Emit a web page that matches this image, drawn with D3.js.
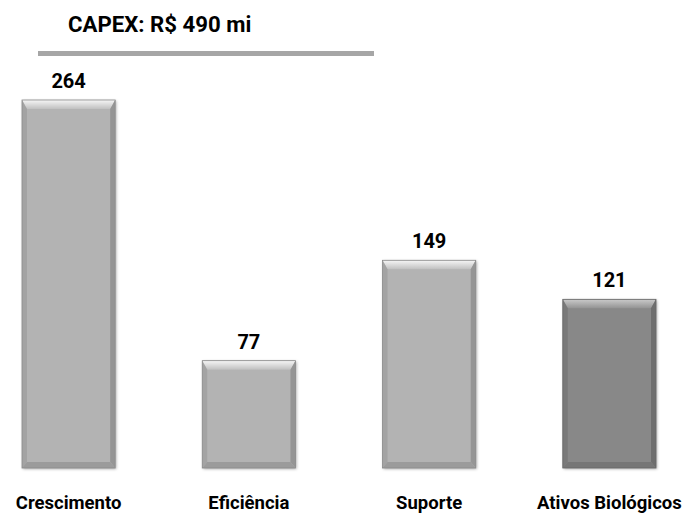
<!DOCTYPE html>
<html><head><meta charset="utf-8">
<script src="https://cdn.jsdelivr.net/npm/d3@7"></script>
<style>body{margin:0;background:#fff}svg{display:block}text{font-family:Roboto,"Open Sans",sans-serif;font-weight:bold;fill:#000}</style>
</head><body>
<script>
const categories = ["Crescimento","Eficiência","Suporte","Ativos Biológicos"];
const values = [264,77,149,121];
const dark = [false,false,false,true];
const title = "CAPEX: R$ 490 mi";

const W=688,H=516;
const svg=d3.select("body").append("svg").attr("width",W).attr("height",H);
const defs=svg.append("defs");
const f=defs.append("filter").attr("id","sh").attr("x","-10%").attr("y","-10%").attr("width","130%").attr("height","130%");
f.append("feDropShadow").attr("dx",1).attr("dy",1).attr("stdDeviation",1.5).attr("flood-color","#000").attr("flood-opacity",0.35);
function grad(id,c1,c2,vertical){
  const g=defs.append("linearGradient").attr("id",id).attr("x1",0).attr("y1",0).attr("x2",vertical?0:1).attr("y2",vertical?1:0);
  g.append("stop").attr("offset","0%").attr("stop-color",c1);
  g.append("stop").attr("offset","100%").attr("stop-color",c2);
}
grad("topL","#f6f6f6","#c0c0c0",true);
grad("topD","#cacaca","#939393",true);

const x=d3.scaleBand().domain(categories).range([22,656]).paddingInner(0.483).paddingOuter(0);
const y=d3.scaleLinear().domain([0,264]).range([468,100]);

svg.append("text").attr("x",68).attr("y",31.5).attr("font-size",22.2).text(title);
svg.append("rect").attr("x",38).attr("y",51).attr("width",336).attr("height",5).attr("fill","#a6a6a6");

const g=svg.selectAll("g.bar").data(categories).join("g").attr("class","bar");
g.each(function(c,i){
  const s=d3.select(this);
  const x0=x(c),w=x.bandwidth(),y0=y(values[i]),y1=y(0),h=y1-y0;
  const base=dark[i]?"#888888":"#b3b3b3";
  const side=dark[i]?"#6e6e6e":"#959595";
  const bot=dark[i]?"#767676":"#9b9b9b";
  const t=9,sd=5,b=6;
  s.append("rect").attr("x",x0).attr("y",y0).attr("width",w).attr("height",h).attr("fill",base).attr("filter","url(#sh)");
  s.append("polygon").attr("points",[[x0,y0],[x0+w,y0],[x0+w-sd,y0+t],[x0+sd,y0+t]].join(" ")).attr("fill",`url(#${dark[i]?"topD":"topL"})`);
  s.append("polygon").attr("points",[[x0,y0],[x0+sd,y0+t],[x0+sd,y1-b],[x0,y1]].join(" ")).attr("fill",side).attr("opacity",0.55);
  s.append("polygon").attr("points",[[x0+w,y0],[x0+w-sd,y0+t],[x0+w-sd,y1-b],[x0+w,y1]].join(" ")).attr("fill",side);
  s.append("polygon").attr("points",[[x0,y1],[x0+sd,y1-b],[x0+w-sd,y1-b],[x0+w,y1]].join(" ")).attr("fill",bot);
  s.append("rect").attr("x",x0).attr("y",y0).attr("width",w).attr("height",h).attr("fill","none").attr("stroke",dark[i]?"#666":"#8a8a8a").attr("stroke-width",0.8);
  s.append("text").attr("x",x0+w/2).attr("y",y0-12).attr("text-anchor","middle").attr("font-size",20).text(values[i]);
});

const ax=d3.axisBottom(x).tickSize(0).tickPadding(0);
const axg=svg.append("g").attr("transform","translate(0,509)").call(ax);
axg.select(".domain").remove();
axg.selectAll("text").attr("font-size",18.5).attr("dy","0").style("font-family","Roboto,'Open Sans',sans-serif").style("font-weight","bold").attr("fill","#000");
</script>
</body></html>
